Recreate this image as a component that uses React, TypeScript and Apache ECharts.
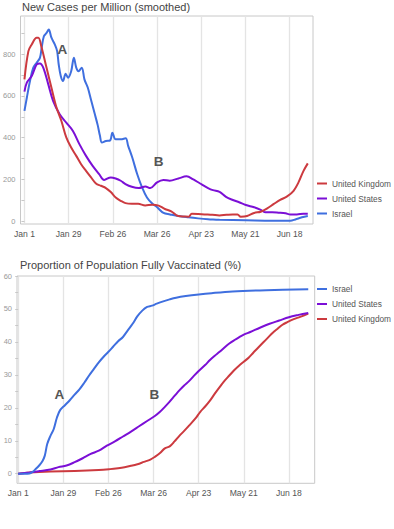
import React, { useEffect, useRef } from 'react';
import * as echarts from 'echarts';

// Day offsets from Jan 1 and their labels
const tickDays = [0, 28, 56, 84, 112, 140, 168];
const tickLabels = ['Jan 1', 'Jan 29', 'Feb 26', 'Mar 26', 'Apr 23', 'May 21', 'Jun 18'];

const casesTickValues = [0, 200, 400, 600, 800];
const casesMinorTicks = [0, 100, 200, 300, 400, 500, 600, 700, 800, 900];
const vaccTickValues = [0, 10, 20, 30, 40, 50, 60];
const vaccMinorTicks = [0, 5, 10, 15, 20, 25, 30, 35, 40, 45, 50, 55, 60];

// New cases per million (smoothed): [day since Jan 1, value]
const casesUK: [number, number][] = [
  [0, 679], [2.5, 814], [4.6, 846], [7.7, 878], [8.8, 878], [10.9, 830], [14, 734], [17.1, 639],
  [20.3, 544], [23.4, 480], [26.5, 401], [29.6, 353], [32.8, 313], [35.9, 273], [39, 241], [42.2, 210],
  [45.3, 181], [48.4, 170], [51.6, 159], [54.7, 140], [57.8, 114], [61, 98], [64, 87], [68, 84],
  [72, 84], [76.5, 76], [81, 79], [85, 75], [89, 59], [93, 48], [97.5, 25], [101.5, 23], [104, 22],
  [106, 36], [110, 35], [114, 33], [119, 31], [123.5, 28], [128, 31], [132, 33], [135, 33], [137, 22],
  [141, 25], [145.5, 40], [149.7, 46], [153.8, 62], [158, 83], [162, 102], [166.4, 119], [170.5, 146],
  [173.6, 186], [176.8, 241], [179.5, 277],
];
const casesUS: [number, number][] = [
  [0, 620], [1.5, 663], [4.6, 695], [7.7, 750], [9.8, 755], [11.9, 735], [15.1, 655], [18.2, 575],
  [22.3, 512], [26.5, 472], [30.7, 432], [34.8, 369], [39, 313], [43.2, 265], [47.3, 226], [50.5, 198],
  [54.7, 210], [57.8, 205], [61, 194], [64, 178], [68, 165], [72.4, 159], [76.6, 167], [79.7, 159],
  [84, 186], [88, 198], [92, 194], [97.5, 205], [102.7, 215], [107, 200], [111, 182], [116.3, 159],
  [119.4, 149], [123.6, 141], [127.7, 117], [132, 102], [136, 91], [140.3, 78], [145.5, 67], [149.7, 55],
  [152.8, 43], [157, 43], [161, 41], [165.4, 38], [168.5, 33], [172.6, 33], [176.8, 36], [179.5, 36],
];
const casesIL: [number, number][] = [
  [0, 528], [1.5, 591], [3.5, 671], [5.6, 735], [7.7, 758], [9.8, 782], [10.9, 830], [12.3, 885],
  [14, 901], [15.4, 917], [17.1, 878], [19.2, 846], [20.7, 814], [21.7, 750], [23, 695], [24.4, 671],
  [26.1, 706], [27.6, 687], [29.6, 718], [31.3, 782], [32.8, 735], [34.2, 718], [36.3, 735], [38, 679],
  [40.1, 640], [42.2, 580], [44.3, 520], [46.4, 460], [47.8, 410], [49.1, 377], [51.6, 384], [54.3, 387],
  [55.7, 424], [57.8, 392], [61, 392], [64.1, 397], [65.7, 361], [68.3, 305], [71.4, 226], [74.5, 162],
  [77.6, 114], [80.8, 86], [83.9, 68], [88.1, 40], [92.2, 33], [97.5, 25], [103.8, 19], [110, 14],
  [116.3, 10], [121.5, 8], [123.6, 7], [140.3, 5], [157, 3], [168.5, 3], [171.6, 9], [175.8, 19],
  [179.5, 25],
];

// Proportion of population fully vaccinated (%)
const vaccIL: [number, number][] = [
  [0, 0], [7, 0.1], [9, 0.6], [11, 1.5], [13, 2.5], [15, 3.8], [16.5, 5.5], [18, 9], [20, 11.5],
  [22, 13.5], [24, 17], [26, 19.3], [29, 20.8], [32, 22.3], [35, 24], [38, 25.6], [41, 27.6],
  [44, 29.8], [47, 31.8], [50, 33.8], [53, 35.5], [56, 37], [59, 38.6], [62, 40.2], [65, 41.5],
  [68, 43.5], [71, 45.5], [74, 47.8], [77, 49.5], [80, 50.6], [83, 51], [86, 51.6], [90, 52.3],
  [94, 52.9], [98, 53.4], [104, 53.9], [112, 54.4], [120, 54.8], [133, 55.3], [154, 55.7], [180, 56],
];
const vaccUS: [number, number][] = [
  [0, 0], [7, 0.4], [13, 0.8], [20, 1.3], [25, 2.0], [30, 2.5], [35, 3.5], [40, 4.7], [45, 6.0],
  [50, 7.0], [55, 8.5], [60, 9.8], [65, 11.3], [70, 12.8], [75, 14.4], [80, 16.0], [85, 17.6],
  [88, 18.8], [91, 20.3], [94, 21.9], [97, 23.6], [100, 25.3], [103, 26.8], [106, 28.1], [109, 29.7],
  [112, 31.2], [116, 33], [119, 34.5], [122, 35.8], [125, 37], [128, 38.3], [131, 39.5], [134, 40.5],
  [137, 41.4], [140, 42.2], [144, 43], [150, 44.3], [156, 45.5], [162, 46.5], [168, 47.5], [174, 48.2],
  [180, 48.8],
];
const vaccUK: [number, number][] = [
  [0, 0], [7, 0.4], [20, 0.7], [35, 0.8], [50, 1.1], [57, 1.4], [62, 1.7], [66, 2.0], [70, 2.4],
  [74, 2.9], [78, 3.6], [82, 4.3], [85, 5.2], [88, 6.3], [91, 7.7], [94, 8.3], [97, 9.8], [100, 11.5],
  [103, 13], [106, 14.6], [110, 16.8], [113, 18.8], [116, 20.4], [119, 22.2], [122, 24.3], [125, 26.3],
  [128, 28.2], [131, 29.8], [134, 31.4], [137, 32.8], [140, 34], [143, 35.2], [146, 36.8], [149, 38.3],
  [152, 39.8], [155, 41.3], [158, 42.8], [161, 44], [164, 45.2], [167, 46], [171, 46.9], [175, 47.6],
  [180, 48.6],
];

// Annotation letters: [day, value]
const casesNotes = [{ name: 'A', coord: [24, 822] }, { name: 'B', coord: [85, 285] }];
const vaccNotes = [{ name: 'A', coord: [25.5, 23.9] }, { name: 'B', coord: [84.5, 23.9] }];

const COLORS: Record<string, string> = {
  'United Kingdom': '#cc3a3f',
  'United States': '#7b0fd6',
  Israel: '#3f6fdf',
};

const FONT = '"Liberation Sans", Arial, Helvetica, sans-serif';

export default function App() {
  const ref = useRef<HTMLDivElement>(null);

  useEffect(() => {
    document.body.style.margin = '0';
    const chart = echarts.init(ref.current!, null, { renderer: 'svg' });

    const xLabelFormatter = (v: number) => {
      const i = tickDays.indexOf(Math.round(v));
      return i >= 0 ? tickLabels[i] : '';
    };

    const makeX = (gridIndex: number, min: number, max: number) => ({
      type: 'value',
      gridIndex,
      min,
      max,
      axisLine: { show: false },
      axisTick: { show: false, customValues: tickDays },
      axisLabel: {
        customValues: tickDays,
        formatter: xLabelFormatter,
        color: '#555',
        fontSize: 8.6,
        fontFamily: FONT,
        margin: 5,
      },
      splitLine: { show: true, lineStyle: { color: '#e4e4e4', width: 1.3 } },
    });

    const makeY = (gridIndex: number, min: number, max: number, labels: number[], ticks: number[]) => ({
      type: 'value',
      gridIndex,
      min,
      max,
      axisLine: { show: false },
      axisTick: { show: true, length: 3, customValues: ticks, lineStyle: { color: '#c8c8c8' } },
      axisLabel: {
        customValues: labels,
        color: '#999',
        fontSize: 7.5,
        fontFamily: FONT,
        margin: 5,
      },
      splitLine: { show: false },
    });

    const line = (name: string, data: [number, number][], idx: number, notes?: any[]) => ({
      type: 'line',
      name,
      data,
      xAxisIndex: idx,
      yAxisIndex: idx,
      showSymbol: false,
      symbol: 'none',
      smooth: 0.35,
      lineStyle: { color: COLORS[name], width: 2 },
      itemStyle: { color: COLORS[name] },
      silent: true,
      markPoint: notes
        ? {
            symbol: 'circle',
            symbolSize: 0,
            silent: true,
            label: {
              show: true,
              position: 'inside',
              formatter: (p: any) => p.name,
              color: '#555',
              fontSize: 13.5,
              fontWeight: 'bold',
              fontFamily: FONT,
            },
            data: notes,
          }
        : undefined,
    });

    const legend = (data: string[], top: number) => ({
      orient: 'vertical',
      left: 317,
      top,
      padding: 0,
      itemWidth: 10,
      itemHeight: 2,
      itemGap: 0,
      icon: 'rect',
      selectedMode: false,
      data,
      textStyle: { color: '#555', fontSize: 8.3, fontFamily: FONT, lineHeight: 15 },
    });

    chart.setOption({
      animation: false,
      backgroundColor: '#ffffff',
      textStyle: { fontFamily: FONT },
      grid: [
        { left: 17, right: 81, top: 16, bottom: 305, show: true, borderColor: '#c8c8c8', borderWidth: 1 },
        { left: 17, right: 79.3, top: 276, bottom: 45.7, show: true, borderColor: '#c8c8c8', borderWidth: 1 },
      ],
      xAxis: [makeX(0, -2.5, 182.8), makeX(1, -0.75, 184)],
      yAxis: [
        makeY(0, -12.9, 982, casesTickValues, casesMinorTicks),
        makeY(1, -2.9, 60, vaccTickValues, vaccMinorTicks),
      ],
      legend: [
        legend(['United Kingdom', 'United States', 'Israel'], 176),
        legend(['Israel', 'United States', 'United Kingdom'], 281.5),
      ],
      graphic: [
        {
          type: 'text',
          left: 22,
          top: 1,
          style: { text: 'New Cases per Million (smoothed)', fill: '#444', fontSize: 11, fontFamily: FONT },
        },
        {
          type: 'text',
          left: 20,
          top: 259,
          style: { text: 'Proportion of Population Fully Vaccinated (%)', fill: '#444', fontSize: 11, fontFamily: FONT },
        },
      ],
      series: [
        line('Israel', casesIL, 0, casesNotes),
        line('United States', casesUS, 0),
        line('United Kingdom', casesUK, 0),
        line('United Kingdom', vaccUK, 1, vaccNotes),
        line('United States', vaccUS, 1),
        line('Israel', vaccIL, 1),
      ],
    });

    return () => chart.dispose();
  }, []);

  return (
    <div
      ref={ref}
      style={{ position: 'absolute', left: 0, top: 0, width: 394, height: 529, background: '#fff' }}
    />
  );
}
